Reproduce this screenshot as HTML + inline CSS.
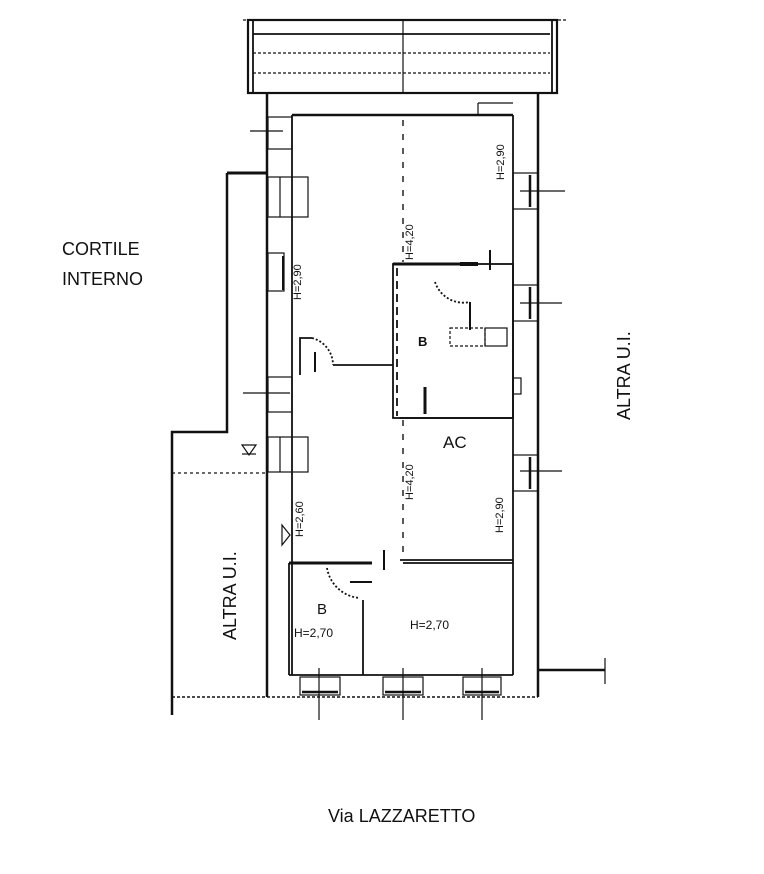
<!DOCTYPE html>
<html><head><meta charset="utf-8"><style>
html,body{margin:0;padding:0;background:#fff;width:764px;height:874px;overflow:hidden}
svg{display:block}
text{font-family:"Liberation Sans",sans-serif;fill:#111}
</style></head><body>
<svg width="764" height="874" viewBox="0 0 764 874" xmlns="http://www.w3.org/2000/svg">
<g stroke="#111" fill="none" stroke-width="1.8">
<line x1="243" y1="20" x2="568" y2="20" stroke-dasharray="3,2" stroke-width="1.2"/>
<rect x="248" y="20" width="309" height="73" stroke-width="2.2"/>
<line x1="253" y1="20" x2="253" y2="93"/>
<line x1="552" y1="20" x2="552" y2="93"/>
<line x1="253" y1="34" x2="550" y2="34"/>
<line x1="253" y1="53" x2="550" y2="53" stroke-dasharray="3,2" stroke-width="1.2"/>
<line x1="253" y1="73" x2="550" y2="73" stroke-dasharray="3,2" stroke-width="1.2"/>
<line x1="403" y1="20" x2="403" y2="93" stroke-width="1.2"/>
<line x1="267" y1="93" x2="267" y2="697" stroke-width="2.5"/>
<line x1="538" y1="93" x2="538" y2="697" stroke-width="2.5"/>
<line x1="292" y1="115" x2="513" y2="115" stroke-width="2.5"/>
<line x1="292" y1="115" x2="292" y2="675"/>
<line x1="513" y1="115" x2="513" y2="675"/>
<line x1="478" y1="103" x2="513" y2="103" stroke-width="1.2"/>
<line x1="478" y1="103" x2="478" y2="115" stroke-width="1.2"/>
<polyline points="227,173 267,173" stroke-width="3"/>
<polyline points="227,173 227,432 172,432 172,715" stroke-width="2.5"/>
<line x1="172" y1="473" x2="267" y2="473" stroke-dasharray="3,3" stroke-width="1.2"/>
<line x1="172" y1="697" x2="538" y2="697" stroke-dasharray="3,2" stroke-width="1.5"/>
<rect x="393" y="264" width="120" height="154"/>
<line x1="397" y1="268" x2="397" y2="416" stroke-dasharray="8,5"/>
<line x1="393" y1="264" x2="460" y2="264" stroke-width="3"/>
<line x1="400" y1="418" x2="513" y2="418"/>
<line x1="400" y1="560" x2="513" y2="560"/>
<line x1="403" y1="120" x2="403" y2="262" stroke-dasharray="6,8" stroke-width="1.4"/>
<line x1="403" y1="420" x2="403" y2="558" stroke-dasharray="6,8" stroke-width="1.4"/>
<line x1="289" y1="563" x2="372" y2="563" stroke-width="3"/>
<line x1="289" y1="563" x2="289" y2="675"/>
<line x1="363" y1="600" x2="363" y2="675"/>
<line x1="403" y1="563" x2="513" y2="563"/>
<line x1="289" y1="675" x2="513" y2="675"/>
<line x1="384" y1="550" x2="384" y2="570" stroke-width="2"/>
<line x1="350" y1="582" x2="372" y2="582" stroke-width="2"/>
<path d="M327,568 A36,36 0 0 0 360,598" stroke-dasharray="2,2"/>
<polyline points="300,375 300,338 312,338"/>
<path d="M312,338 A28,28 0 0 1 333,365" stroke-dasharray="2,2"/>
<line x1="315" y1="352" x2="315" y2="372" stroke-width="2"/>
<line x1="333" y1="365" x2="393" y2="365"/>
<path d="M435,282 A30,30 0 0 0 470,302" stroke-dasharray="2,2"/>
<line x1="460" y1="264" x2="478" y2="264" stroke-width="4"/>
<line x1="490" y1="250" x2="490" y2="270" stroke-width="2"/>
<line x1="470" y1="302" x2="470" y2="330" stroke-width="2"/>
<rect x="450" y="328" width="35" height="18" stroke-dasharray="3,2" stroke-width="1.2"/>
<rect x="485" y="328" width="22" height="18" stroke-width="1.2"/>
<line x1="425" y1="387" x2="425" y2="414" stroke-width="3"/>
<rect x="513" y="378" width="8" height="16" stroke-width="1.2"/>
<g stroke-width="1.2">
<rect x="268" y="117" width="24" height="32"/>
<line x1="250" y1="131" x2="283" y2="131"/>
<rect x="268" y="177" width="40" height="40"/>
<line x1="280" y1="177" x2="280" y2="217"/>
<rect x="268" y="253" width="16" height="38"/>
<line x1="283" y1="256" x2="283" y2="290" stroke-width="2"/>
<rect x="268" y="377" width="24" height="35"/>
<line x1="243" y1="393" x2="290" y2="393"/>
<rect x="268" y="437" width="40" height="35"/>
<line x1="280" y1="437" x2="280" y2="472"/>
<path d="M242,445 h14 l-7,10 z"/>
<line x1="242" y1="454" x2="256" y2="454"/>
<path d="M282,525 l8,10 l-8,10 z"/>
<rect x="513" y="173" width="25" height="36"/>
<line x1="520" y1="191" x2="565" y2="191"/>
<line x1="530" y1="175" x2="530" y2="207" stroke-width="2.5"/>
<rect x="513" y="285" width="25" height="36"/>
<line x1="520" y1="303" x2="562" y2="303"/>
<line x1="530" y1="287" x2="530" y2="319" stroke-width="2.5"/>
<rect x="513" y="455" width="25" height="36"/>
<line x1="520" y1="471" x2="562" y2="471"/>
<line x1="530" y1="457" x2="530" y2="489" stroke-width="2.5"/>
<rect x="300" y="677" width="40" height="18"/>
<line x1="302" y1="692" x2="338" y2="692" stroke-width="2.5"/>
<line x1="319" y1="668" x2="319" y2="720"/>
<rect x="383" y="677" width="40" height="18"/>
<line x1="385" y1="692" x2="421" y2="692" stroke-width="2.5"/>
<line x1="403" y1="668" x2="403" y2="720"/>
<rect x="463" y="677" width="38" height="18"/>
<line x1="465" y1="692" x2="499" y2="692" stroke-width="2.5"/>
<line x1="482" y1="668" x2="482" y2="720"/>
</g>
<line x1="538" y1="670" x2="605" y2="670" stroke-width="2.5"/>
<line x1="605" y1="658" x2="605" y2="684" stroke-width="1.2"/>
</g>
<g font-size="11">
<text transform="translate(301,300) rotate(-90)">H=2,90</text>
<text transform="translate(413,260) rotate(-90)">H=4,20</text>
<text transform="translate(504,180) rotate(-90)">H=2,90</text>
<text transform="translate(413,500) rotate(-90)">H=4,20</text>
<text transform="translate(503,533) rotate(-90)">H=2,90</text>
<text transform="translate(303,537) rotate(-90)">H=2,60</text>
<text x="294" y="637" font-size="12">H=2,70</text>
<text x="410" y="629" font-size="12">H=2,70</text>
</g>
<text x="418" y="346" font-size="13" font-weight="bold">B</text>
<text x="443" y="448" font-size="17">AC</text>
<text x="317" y="614" font-size="15">B</text>
<text x="62" y="255" font-size="18">CORTILE</text>
<text x="62" y="285" font-size="18">INTERNO</text>
<text transform="translate(630,420) rotate(-90)" font-size="18">ALTRA U.I.</text>
<text transform="translate(236,640) rotate(-90)" font-size="18">ALTRA U.I.</text>
<text x="328" y="822" font-size="18">Via LAZZARETTO</text>
</svg>
</body></html>
